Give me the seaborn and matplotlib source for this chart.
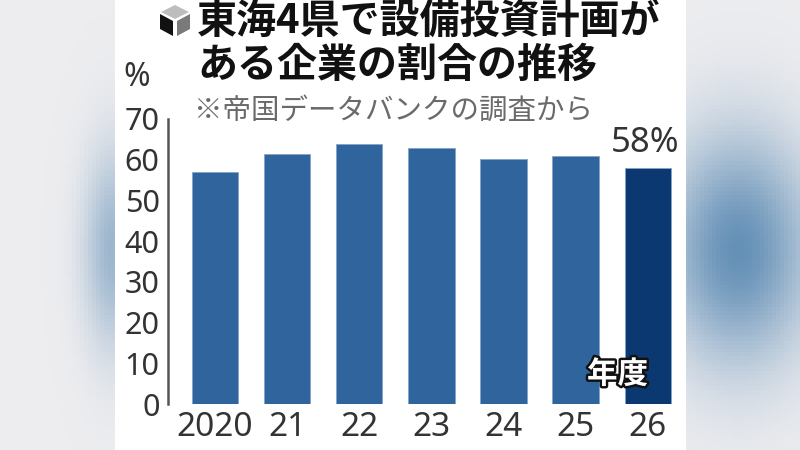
import numpy as np
import pandas as pd
import seaborn as sns
import matplotlib.pyplot as plt
import matplotlib.patheffects as pe
from matplotlib.patches import Rectangle, Polygon

# data
years = ["2020", "21", "22", "23", "24", "25", "26"]
shares = [57, 61.3, 63.8, 62.8, 60.1, 61.0, 58]
bar_colors = ["#2f659c"] * 6 + ["#0b3870"]

title_1 = "東海4県で設備投資計画が"
title_2 = "ある企業の割合の推移"
note = "※帝国データバンクの調査から"

sns.set_style("white")
plt.rcParams["font.family"] = ["Noto Sans CJK JP", "DejaVu Sans"]
NUM_FONT = ["Noto Sans", "DejaVu Sans"]

W, H = 800, 450
fig = plt.figure(figsize=(8, 4.5), dpi=100)


def px(x, y):
    # pixel (from top-left) -> figure fraction
    return x / W, 1 - y / H


# blurred photo-like background
bg = fig.add_axes([0, 0, 1, 1])
gx, gy = np.meshgrid(np.linspace(0, W, 200), np.linspace(0, H, 120))
blob_r = np.exp(-(((gx - 740) / 75) ** 2 + ((gy - 250) / 115) ** 2))
blob_l = np.exp(-(((gx - 112) / 30) ** 2 + ((gy - 250) / 100) ** 2))
base = np.array([0.93, 0.93, 0.94])
blue = np.array([0.40, 0.57, 0.72])
mix = np.clip(blob_r + 0.6 * blob_l, 0, 1)[..., None]
img = base * (1 - mix) + blue * mix
bg.imshow(img, extent=[0, W, H, 0], aspect="auto")
bg.set_axis_off()

# white card
x0, _ = px(115, 0)
x1, _ = px(686, 0)
fig.add_artist(Rectangle((x0, 0), x1 - x0, 1, transform=fig.transFigure,
                         facecolor="white", edgecolor="none", zorder=1))

# cube icon
top = [(175, 5), (161, 12), (175, 19), (189, 12)]
left = [(160, 14), (173, 21), (173, 36), (160, 29)]
right = [(177, 21), (190, 14), (190, 29), (177, 36)]
for pts, c in [(top, "#bdbdbd"), (left, "#111111"), (right, "#7a7a7a")]:
    fig.add_artist(Polygon([px(*p) for p in pts], closed=True,
                           transform=fig.transFigure, facecolor=c,
                           edgecolor="none", zorder=2))

# main chart
l, b = px(168, 404)
_, t = px(168, 119)
ax = fig.add_axes([l, b, x1 - l, t - b], zorder=3)
ax.patch.set_alpha(0)

df = pd.DataFrame({"year": years, "share": shares})
sns.barplot(data=df, x="year", y="share", hue="year", palette=bar_colors,
            legend=False, width=0.645, saturation=1, ax=ax,
            edgecolor="#7fa4cc", linewidth=0.6)

ax.set_ylim(0, 70)
ax.set_xlim(-0.651, 6.53)
ax.set_yticks(range(0, 71, 10))
ax.set_xlabel("")
ax.set_ylabel("")
for s in ["top", "right", "bottom"]:
    ax.spines[s].set_visible(False)
ax.spines["left"].set_color("#555555")
ax.spines["left"].set_linewidth(1.8)
ax.tick_params(axis="y", direction="in", length=7, width=1.8, color="#555555",
               pad=6, labelsize=22, labelcolor="#333333")
ax.tick_params(axis="x", length=0, pad=5, labelsize=24, labelcolor="#333333")
for lab in ax.get_yticklabels() + ax.get_xticklabels():
    lab.set_family(NUM_FONT)

# value label on the latest bar
ax.annotate(f"{shares[-1]:.0f}%", xy=(6, shares[-1]), xytext=(-2, 6),
            textcoords="offset points", ha="center", va="bottom",
            fontsize=25, color="#333333", family=NUM_FONT)

ax.text(5.58, 7.3, "年度", ha="center", va="center", fontsize=22,
        fontweight="bold", color="white",
        path_effects=[pe.withStroke(linewidth=3.5, foreground="#111111")])

# titles and notes
fig.text(*px(197, 21), title_1, ha="left", va="center", fontsize=28.8,
         fontweight="bold", color="#111111", zorder=4)
fig.text(*px(197, 65), title_2, ha="left", va="center", fontsize=28.8,
         fontweight="bold", color="#111111", zorder=4)
fig.text(*px(194, 111), note, ha="left", va="center", fontsize=20.5,
         color="#6a6a6a", zorder=4)
fig.text(*px(137, 78), "%", ha="center", va="center", fontsize=23,
         color="#333333", family=NUM_FONT, zorder=4)

fig.savefig("out.png", dpi=100)
